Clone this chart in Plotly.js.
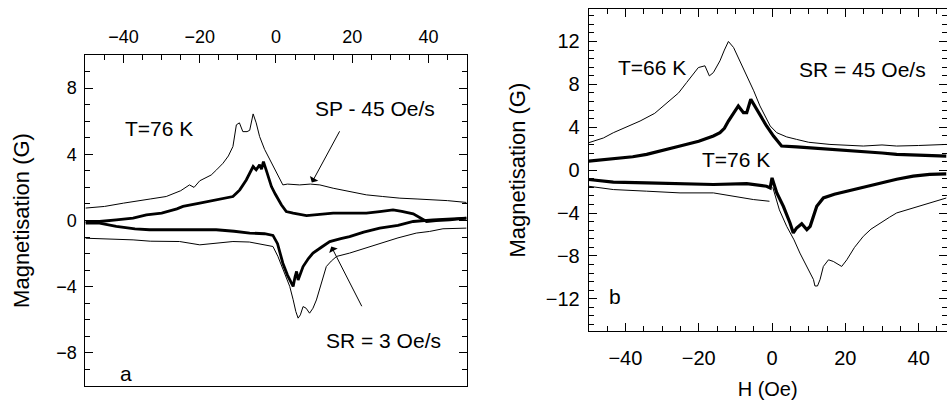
<!DOCTYPE html>
<html>
<head>
<meta charset="utf-8">
<script src="https://cdn.plot.ly/plotly-3.0.1.min.js"></script>
<style>html,body{margin:0;padding:0;background:#fff;overflow:hidden;}</style>
</head>
<body>
<div id="chart" style="width:947px;height:408px;"></div>
<script>
// ---------- Panel a (T = 76 K) ----------
// thin: SP - 45 Oe/s, upper branch
const aThinUpH = [-50,-45,-40,-37.5,-33,-28.8,-25,-22.7,-21.5,-20,-17,-15.6,-14.8,-13.9,-12.5,-11.3,-10.4,-9.6,-8.7,-7.6,-6.9,-6.0,-5.2,-4.3,-3.0,-1.2,0.1,1.0,1.8,3,6.2,9,11.5,15,19.3,23.7,28,32.5,37,41.2,45,50];
const aThinUpM = [0.75,0.85,1.05,1.15,1.3,1.45,1.8,2.15,2.0,2.4,2.75,3.06,3.26,3.46,3.9,4.47,5.78,5.9,5.37,5.37,5.45,6.44,5.9,5.07,4.3,3.46,2.86,2.5,2.15,2.2,2.15,2.2,2.15,1.95,1.75,1.55,1.45,1.35,1.3,1.25,1.2,1.09];
// thin: lower branch
const aThinLoH = [-50,-45,-40,-37.5,-33,-28.8,-25.3,-20,-15,-11.3,-7,-5.2,-2.5,-0.8,0.5,2.0,3.6,4.5,5.2,5.8,6.4,7.1,7.9,8.8,9.7,10.6,11.9,13.2,14.5,15.9,19.3,23,27.2,32,36.8,40.3,43.8,50];
const aThinLoM = [-1.07,-1.1,-1.17,-1.17,-1.25,-1.27,-1.27,-1.47,-1.35,-1.27,-1.3,-1.37,-1.47,-1.57,-2.17,-3.0,-3.98,-4.79,-5.5,-5.9,-5.7,-5.2,-5.3,-5.6,-5.3,-4.8,-3.8,-2.78,-2.45,-2.17,-1.97,-1.7,-1.37,-1.05,-0.76,-0.66,-0.5,-0.46];
// thick: SR = 3 Oe/s, upper branch
const aThickUpH = [-50,-46.3,-41.9,-37.5,-34,-30,-26,-24.4,-20,-16.1,-13,-11.3,-10.4,-9.5,-7.8,-6.0,-5.2,-4.3,-3.8,-3.3,-2.5,-1.2,-0.2,1.4,2.7,4.5,8.0,12,15,18.5,23.7,27.2,30.7,33,36,39.5,42,45.6,50];
const aThickUpM = [-0.06,-0.06,0.04,0.14,0.34,0.45,0.7,0.85,1.05,1.25,1.4,1.45,1.65,1.85,2.45,3.26,3.06,3.36,3.1,3.56,3.0,2.05,1.6,0.95,0.54,0.44,0.3,0.4,0.44,0.44,0.44,0.54,0.64,0.55,0.4,-0.06,0.0,0.04,0.14];
// thick: lower branch
const aThickLoH = [-50,-46.3,-41.9,-37,-33.2,-28,-24.4,-20,-15.7,-11,-6.9,-3,-0.8,0.4,1.8,3.0,4.0,4.5,5.0,5.4,5.8,6.5,7.1,8.5,9.7,12,14.1,17,19.3,23,27.2,32,36,41.2,45,50];
const aThickLoM = [-0.16,-0.16,-0.36,-0.5,-0.56,-0.56,-0.52,-0.56,-0.56,-0.65,-0.76,-0.8,-0.9,-1.4,-2.58,-3.3,-3.8,-3.98,-3.4,-3.08,-3.6,-3.1,-2.78,-2.3,-1.97,-1.6,-1.27,-1.1,-0.97,-0.7,-0.46,-0.3,-0.06,0.04,0.1,0.14];

// ---------- Panel b (SR = 45 Oe/s) ----------
// thin: T = 66 K, upper branch
const bThinUpH = [-50,-46,-43.3,-40,-36,-32,-28.7,-25.5,-23.3,-21.5,-20.1,-18.3,-17.1,-16,-14.2,-13,-11.9,-10.5,-8.5,-6.9,-5,-3.3,-1.5,-0.5,1.3,4,6.7,10,15.8,20,24.9,30,34,40,47.6];
const bThinUpM = [2.56,3.0,3.49,4.0,4.58,5.3,6.3,7.2,8.17,8.9,9.57,9.73,8.79,9.1,10.2,11.2,12.0,11.44,10.0,8.79,7.4,5.99,4.8,4.12,3.49,3.1,2.87,2.6,2.4,2.3,2.25,2.35,2.25,2.3,2.4];
// thin: lower branch (gap at H = 0)
const bThinLoH = [-50,-43.3,-34.2,-25.1,-16,-10.5,-5.1,-0.7,null,0.2,2,4,6,7.6,9.5,11.3,11.7,12.4,13.1,14,15.4,16.7,19,20.4,22.5,24.9,27,29.5,32,34,38.5,43.1,47.6];
const bThinLoM = [-1.5,-1.81,-1.96,-2.12,-2.12,-2.43,-2.74,-2.9,null,-1.6,-3.7,-5.24,-6.5,-7.73,-9.0,-10.2,-10.8,-10.8,-10.2,-8.98,-8.36,-8.51,-8.98,-8.36,-7.2,-6.17,-5.5,-4.93,-4.4,-3.99,-3.52,-3.06,-2.59];
// thick: T = 76 K, upper branch
const bThickUpH = [-50,-43.3,-38,-34.2,-30,-25.1,-20,-16,-14.2,-13,-11.9,-10.5,-9.2,-7.8,-6.9,-5.8,-4.2,-2.8,-1.5,0.4,2.6,6.7,10,15.8,20,24.9,30,34,40,47.6];
const bThickUpM = [0.84,1.06,1.25,1.47,1.8,2.25,2.7,3.18,3.49,3.9,4.58,5.3,5.99,5.36,5.36,6.61,5.68,4.9,4.12,3.18,2.25,2.18,2.1,1.93,1.85,1.78,1.6,1.47,1.4,1.31];
// thick: lower branch (jump at H = 0)
const bThickLoH = [-50,-43.3,-34.2,-25.1,-16,-6.9,-1.5,-0.5,0,1.3,3.1,4.9,5.8,6.7,8.1,9.5,10.4,12.2,14,17,20.4,25,29.5,34,38.5,43,47.6];
const bThickLoM = [-0.87,-1.12,-1.18,-1.25,-1.34,-1.25,-1.5,-1.65,-0.72,-2.12,-3.37,-4.93,-5.86,-5.39,-4.99,-5.55,-5.24,-3.37,-2.59,-2.25,-1.96,-1.55,-1.18,-0.85,-0.56,-0.4,-0.34];

// ---------- Text ----------
const yTitle = 'Magnetisation (G)';
const xTitleB = 'H (Oe)';
const labelsA = [
  {text:'T=76 K', h:-30.8, m:5.57},
  {text:'SP - 45 Oe/s', h:25.9, m:6.78},
  {text:'SR = 3 Oe/s', h:28.1, m:-7.23},
  {text:'a', h:-39.4, m:-9.23}
];
const labelsB = [
  {text:'T=66 K', h:-32.8, m:9.56},
  {text:'SR = 45 Oe/s', h:24.7, m:9.42},
  {text:'T=76 K', h:-9.8, m:1.0},
  {text:'b', h:-42.8, m:-11.77}
];
// arrows: [head H, head M, tail H, tail M]
const arrowsA = [[9.4,2.29,16.9,5.48],[14.5,-1.57,22.7,-5.27]];

const FONT = 'Liberation Sans, Arial, Helvetica, sans-serif';
const thin = {color:'#000', width:1};
const thick = {color:'#000', width:2.8};
const thickB = {color:'#000', width:3.2};

function tr(x, y, line, xa, ya){
  return {x:x, y:y, type:'scatter', mode:'lines', line:line, xaxis:xa, yaxis:ya,
          hoverinfo:'skip', showlegend:false, connectgaps:false};
}
function carrier(x, y, xa, ya){
  return {x:x, y:y, type:'scatter', mode:'none', xaxis:xa, yaxis:ya, hoverinfo:'skip', showlegend:false};
}

const data = [
  tr(aThinUpH, aThinUpM, thin, 'x', 'y'),
  tr(aThinLoH, aThinLoM, thin, 'x', 'y'),
  tr(aThickUpH, aThickUpM, thick, 'x', 'y'),
  tr(aThickLoH, aThickLoM, thick, 'x', 'y'),
  tr(bThinUpH, bThinUpM, thin, 'x2', 'y2'),
  tr(bThinLoH, bThinLoM, thin, 'x2', 'y2'),
  tr(bThickUpH, bThickUpM, thickB, 'x2', 'y2'),
  tr(bThickLoH, bThickLoM, thickB, 'x2', 'y2'),
  // invisible carriers for the overlay axes (minor ticks, panel-b left frame line)
  carrier(aThinUpH, aThinUpM, 'x3', 'y'),
  carrier(aThinUpH, aThinUpM, 'x', 'y3'),
  carrier(bThinUpH, bThinUpM, 'x4', 'y2'),
  carrier(bThinUpH, bThinUpM, 'x2', 'y4'),
  carrier(bThinUpH, bThinUpM, 'x2', 'y5')
];

const baseAx = {
  ticks:'inside', ticklen:8, tickwidth:1, tickcolor:'#000',
  showgrid:false, zeroline:false, linecolor:'#000', linewidth:1
};
const minorAx = {
  ticks:'inside', ticklen:5, tickwidth:1, tickcolor:'#000',
  showgrid:false, zeroline:false, showline:false, showticklabels:false
};

const annotations = [];
labelsA.forEach(l => annotations.push({text:l.text, x:l.h, y:l.m, xref:'x', yref:'y',
  showarrow:false, font:{family:FONT, size:21, color:'#000'}}));
labelsB.forEach(l => annotations.push({text:l.text, x:l.h, y:l.m, xref:'x2', yref:'y2',
  showarrow:false, font:{family:FONT, size:21, color:'#000'}}));
arrowsA.forEach(a => annotations.push({text:'', x:a[0], y:a[1], ax:a[2], ay:a[3],
  xref:'x', yref:'y', axref:'x', ayref:'y', showarrow:true, arrowhead:1,
  arrowsize:1.6, arrowwidth:1, arrowcolor:'#000'}));

const layout = {
  width:947, height:408,
  margin:{l:0, r:0, t:0, b:0},
  showlegend:false,
  // panel a
  xaxis: Object.assign({}, baseAx, {
    domain:[0.0902, 0.4927], range:[-50, 50], anchor:'y', side:'top',
    dtick:20, tick0:0, showline:true, mirror:true, ticklabelstandoff:4,
    tickfont:{family:FONT, size:18, color:'#000'}
  }),
  yaxis: Object.assign({}, baseAx, {
    domain:[0.0539, 0.8652], range:[-10, 10], anchor:'x',
    dtick:4, tick0:0, showline:true, mirror:'ticks', ticklabelstandoff:4,
    tickfont:{family:FONT, size:18, color:'#000'},
    title:{text:yTitle, font:{family:FONT, size:22, color:'#000'}, standoff:20}
  }),
  xaxis3: Object.assign({}, minorAx, {
    overlaying:'x', anchor:'y', side:'top', range:[-50, 50], dtick:5, tick0:0, mirror:false
  }),
  yaxis3: Object.assign({}, minorAx, {
    overlaying:'y', anchor:'x', side:'left', range:[-10, 10], dtick:1, tick0:0, mirror:'ticks'
  }),
  // panel b
  xaxis2: Object.assign({}, baseAx, {
    domain:[0.6217, 0.9995], range:[-50, 47.6], anchor:'y2',
    dtick:20, tick0:0, showline:true, mirror:'ticks', ticklabelstandoff:9,
    tickfont:{family:FONT, size:20, color:'#000'},
    title:{text:xTitleB, font:{family:FONT, size:20, color:'#000'}, standoff:13}
  }),
  yaxis2: Object.assign({}, baseAx, {
    domain:[0.1887, 0.9772], range:[-15, 15], anchor:'x2',
    dtick:4, tick0:0, showline:false, mirror:'ticks', ticklabelstandoff:8,
    tickfont:{family:FONT, size:20, color:'#000'},
    title:{text:yTitle, font:{family:FONT, size:22, color:'#000'}, standoff:14}
  }),
  xaxis4: Object.assign({}, minorAx, {
    overlaying:'x2', anchor:'y2', side:'bottom', range:[-50, 47.6], dtick:5, tick0:0, mirror:'ticks'
  }),
  yaxis4: Object.assign({}, minorAx, {
    overlaying:'y2', anchor:'x2', side:'left', range:[-15, 15], dtick:0.8, tick0:0, mirror:'ticks'
  }),
  yaxis5: {
    overlaying:'y2', anchor:'x2', side:'left', range:[-15, 15], showline:true, linecolor:'#000',
    linewidth:1, mirror:false, ticks:'', showticklabels:false, showgrid:false, zeroline:false
  },
  annotations: annotations
};

Plotly.newPlot('chart', data, layout, {staticPlot:true});
</script>
</body>
</html>
